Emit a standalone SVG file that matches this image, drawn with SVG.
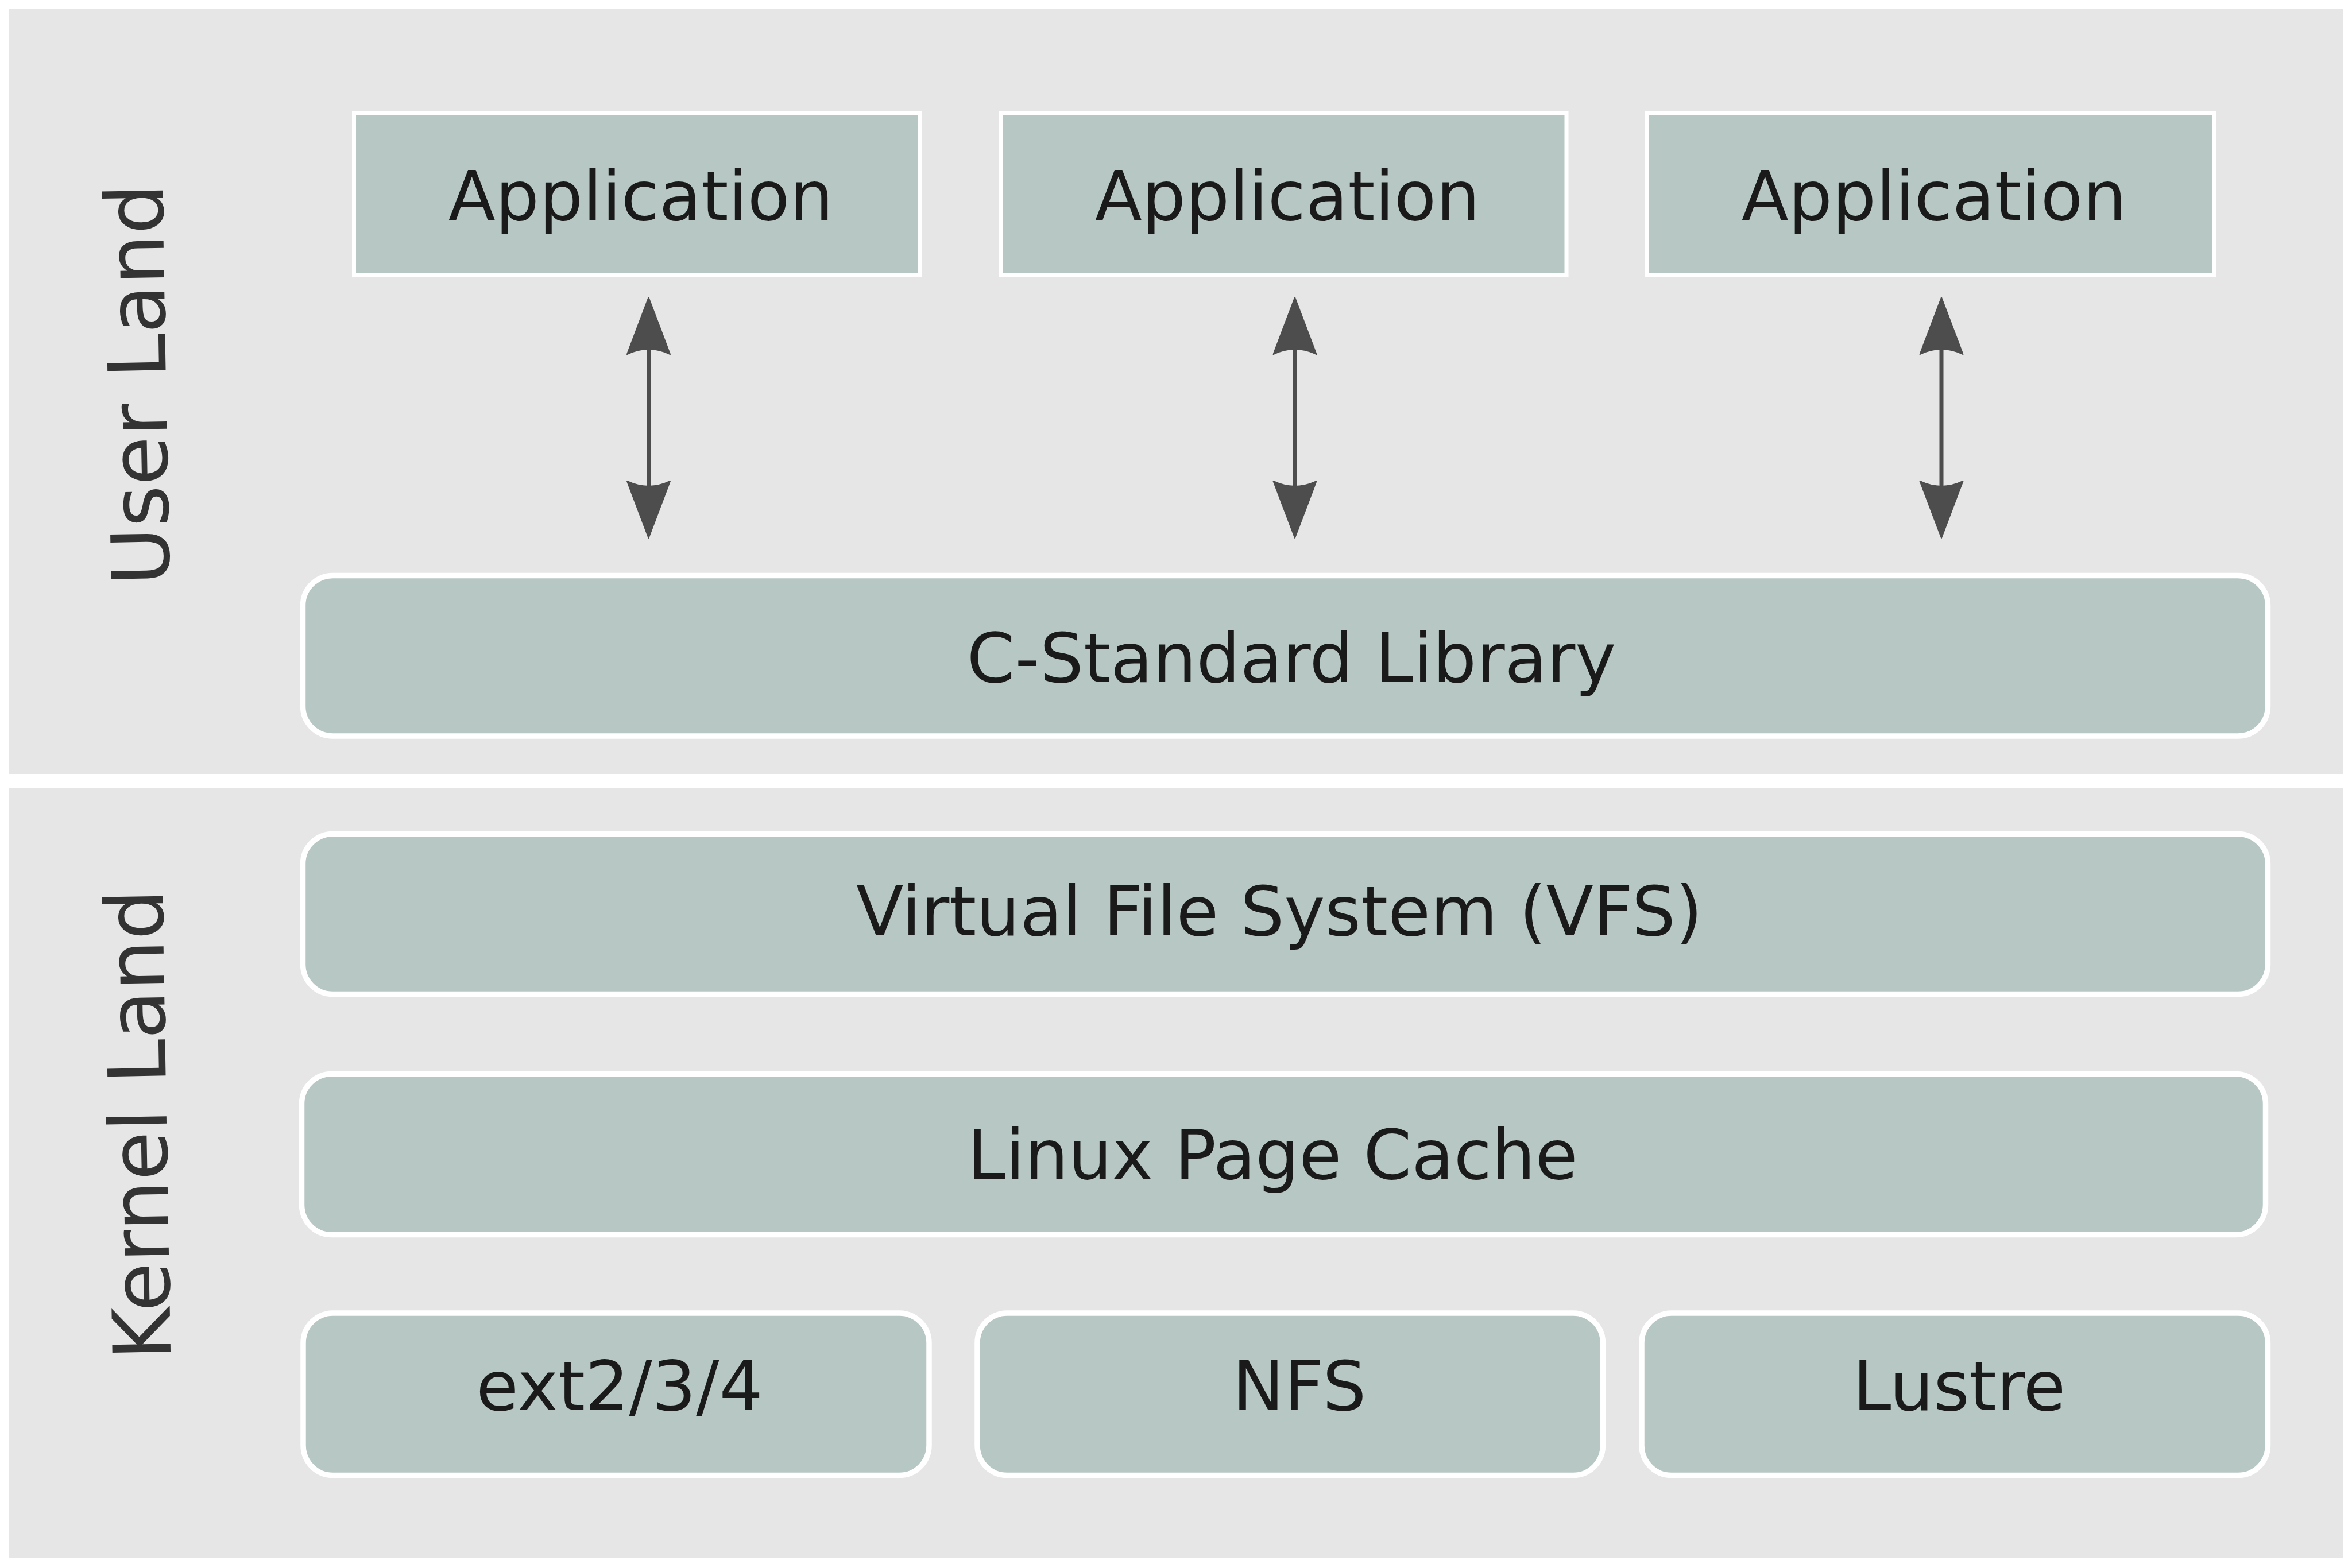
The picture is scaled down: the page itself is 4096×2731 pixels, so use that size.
<svg xmlns="http://www.w3.org/2000/svg" width="4096" height="2731" viewBox="0 0 4096 2731">
<style>
.panel{fill:#e6e6e6}
.box{fill:#b7c7c3;stroke:#ffffff;stroke-width:9.5}
.app{fill:#b7c7c3;stroke:#ffffff;stroke-width:7}
.t{font-family:"DejaVu Sans",sans-serif;font-size:120px;fill:#1a1a1a;text-anchor:middle}
.lbl{font-family:"DejaVu Sans",sans-serif;font-size:139px;fill:#333333;text-anchor:middle}
.conn{stroke:#4d4d4d;stroke-width:7;fill:none;marker-start:url(#head);marker-end:url(#head)}
</style>
<defs>
<marker id="head" markerUnits="userSpaceOnUse" orient="auto-start-reverse" refX="0" refY="0" markerWidth="200" markerHeight="200" viewBox="-50 -100 200 200" overflow="visible">
<path d="M90,0 L-9,-37.5 Q9,0 -9,37.5 Z" fill="#4d4d4d" stroke="#4d4d4d" stroke-width="2" stroke-linejoin="round"/>
</marker>
</defs>
<rect x="0" y="0" width="4096" height="2731" fill="#ffffff"/>
<g id="user-land">
<rect class="panel" x="16" y="16" width="4064" height="1332"/>
<text class="lbl" transform="translate(289,669) rotate(-91)">User Land</text>
</g>
<g id="kernel-land">
<rect class="panel" x="16" y="1373" width="4064" height="1341"/>
<text class="lbl" transform="translate(290,1958) rotate(-91)">Kernel Land</text>
</g>
<g id="app1">
<rect class="app" x="616.5" y="196.5" width="985" height="283"/>
<text class="t" x="1116" y="383">Application</text>
</g>
<g id="app2">
<rect class="app" x="1743" y="196.5" width="985" height="283"/>
<text class="t" x="2242" y="383">Application</text>
</g>
<g id="app3">
<rect class="app" x="2868.5" y="196.5" width="987" height="283"/>
<text class="t" x="3368" y="383">Application</text>
</g>
<g id="clib">
<rect class="box" x="527.5" y="1002.5" width="3422" height="279.5" rx="52" ry="52"/>
<text class="t" x="2249" y="1188">C-Standard Library</text>
</g>
<g id="vfs">
<rect class="box" x="527.5" y="1452.5" width="3422" height="279" rx="52" ry="52"/>
<text class="t" x="2228" y="1629">Virtual File System (VFS)</text>
</g>
<g id="pagecache">
<rect class="box" x="525.5" y="1870.5" width="3420" height="280" rx="52" ry="52"/>
<text class="t" x="2216" y="2053">Linux Page Cache</text>
</g>
<g id="ext">
<rect class="box" x="528" y="2287" width="1090" height="282.5" rx="52" ry="52"/>
<text class="t" x="1079" y="2456">ext2/3/4</text>
</g>
<g id="nfs">
<rect class="box" x="1702" y="2287" width="1089.5" height="282.5" rx="52" ry="52"/>
<text class="t" x="2263" y="2456">NFS</text>
</g>
<g id="lustre">
<rect class="box" x="2859" y="2287" width="1090.5" height="282.5" rx="52" ry="52"/>
<text class="t" x="3412" y="2456">Lustre</text>
</g>
<g id="connectors">
<line class="conn" x1="1129.5" y1="608" x2="1129.5" y2="847"/>
<line class="conn" x1="2255" y1="608" x2="2255" y2="847"/>
<line class="conn" x1="3381" y1="608" x2="3381" y2="847"/>
</g>
</svg>
